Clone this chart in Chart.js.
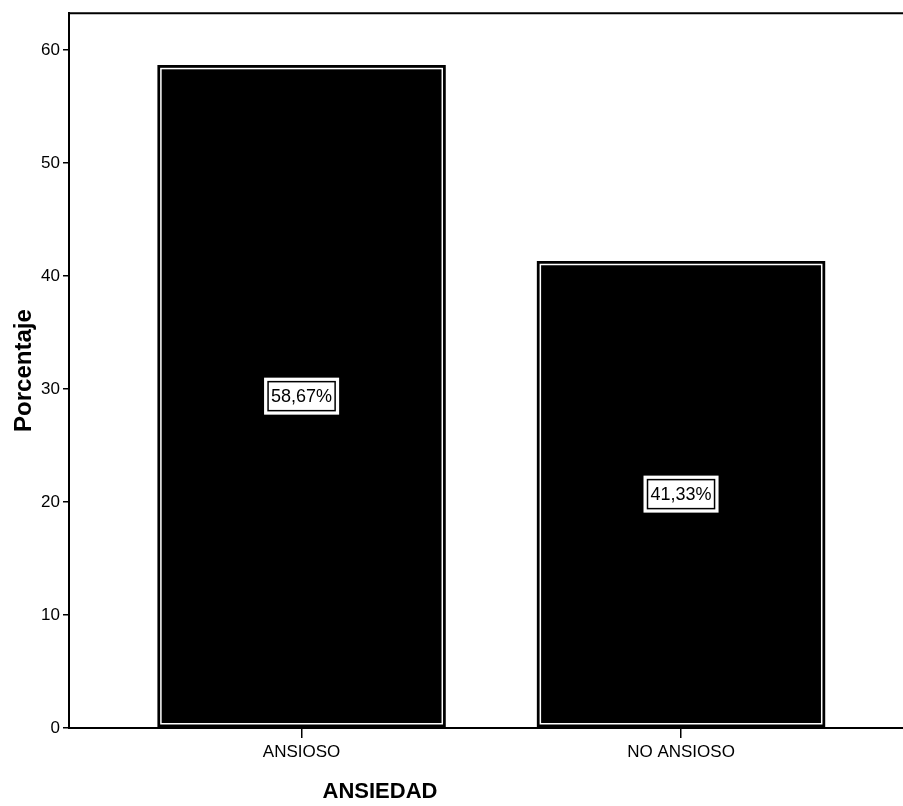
<!DOCTYPE html>
<html>
<head>
<meta charset="utf-8">
<script src="https://cdn.jsdelivr.net/npm/chart.js@4"></script>
<style>
  html, body { margin: 0; padding: 0; background: #fff; }
  #wrap { width: 903px; height: 806px; }
</style>
</head>
<body>
<div id="wrap"><canvas id="grafico"></canvas></div>
<script>
// ============================================================
//  Datos
// ============================================================
const categorias = ['ANSIOSO', 'NO ANSIOSO'];
const porcentajes = [58.67, 41.33];
const etiquetas = ['58,67%', '41,33%'];
const ticksY = [0, 10, 20, 30, 40, 50, 60];

const fuente = "Arial, 'Liberation Sans', sans-serif";

// ============================================================
//  Plugin: borde blanco interior, etiquetas y marco superior
// ============================================================
const decoracion = {
    id: 'decoracion',
    afterDatasetsDraw(chart) {
        const ctx = chart.ctx;
        const meta = chart.getDatasetMeta(0);
        ctx.save();
        meta.data.forEach((bar, i) => {
            const left = bar.x - bar.width / 2;
            const right = bar.x + bar.width / 2;
            // línea blanca interior
            ctx.strokeStyle = '#fff';
            ctx.lineWidth = 1.5;
            ctx.strokeRect(left + 3.5, bar.y + 3.5, right - left - 7, bar.base - bar.y - 7);

            // caja con el porcentaje
            const cy = (bar.y + bar.base) / 2;
            ctx.font = '18px ' + fuente;
            const w = ctx.measureText(etiquetas[i]).width + 6;
            const h = 29;
            ctx.fillStyle = '#fff';
            ctx.fillRect(bar.x - w / 2 - 4, cy - h / 2 - 4, w + 8, h + 8);
            ctx.strokeStyle = '#000';
            ctx.lineWidth = 1.5;
            ctx.strokeRect(bar.x - w / 2, cy - h / 2, w, h);
            ctx.fillStyle = '#000';
            ctx.textAlign = 'center';
            ctx.textBaseline = 'middle';
            ctx.fillText(etiquetas[i], bar.x, cy + 1);
        });

        // marco superior
        const a = chart.chartArea;
        ctx.strokeStyle = '#000';
        ctx.lineWidth = 2;
        ctx.beginPath();
        ctx.moveTo(a.left, a.top);
        ctx.lineTo(chart.width, a.top);
        ctx.stroke();

        // título del eje X
        ctx.font = 'bold 22px ' + fuente;
        ctx.fillStyle = '#000';
        ctx.textAlign = 'center';
        ctx.textBaseline = 'middle';
        ctx.fillText('ANSIEDAD', 380, 792);
        ctx.restore();
    }
};

// ============================================================
//  Gráfico
// ============================================================
new Chart(document.getElementById('grafico'), {
    type: 'bar',
    data: {
        datasets: [{
            data: porcentajes.map((v, i) => ({ x: i, y: v })),
            backgroundColor: '#000',
            borderWidth: 0,
            categoryPercentage: 1,
            barPercentage: 0.76
        }]
    },
    options: {
        responsive: true,
        maintainAspectRatio: false,
        animation: false,
        layout: { padding: { top: 10, right: 0, left: 0, bottom: 0 } },
        plugins: {
            legend: { display: false },
            tooltip: { enabled: false }
        },
        scales: {
            x: {
                type: 'linear',
                min: -0.613,
                max: 1.585,
                offset: false,
                afterBuildTicks: s => { s.ticks = categorias.map((c, i) => ({ value: i })); },
                afterFit: s => { s.height = 78; },
                ticks: {
                    callback: v => categorias[v],
                    color: '#000',
                    padding: 4,
                    maxRotation: 0,
                    autoSkip: false,
                    font: { size: 17, family: fuente }
                },
                grid: { offset: false, drawOnChartArea: false, drawTicks: true, tickLength: 10, color: '#000', lineWidth: 1.5 },
                border: { display: true, color: '#000', width: 2 }
            },
            y: {
                min: 0,
                max: 63.26,
                afterBuildTicks: s => { s.ticks = ticksY.map(v => ({ value: v })); },
                afterFit: s => { s.width = 69; },
                ticks: {
                    color: '#000',
                    padding: 3,
                    font: { size: 17, family: fuente }
                },
                title: {
                    display: true,
                    text: 'Porcentaje',
                    color: '#000',
                    padding: { top: 10, bottom: 0 },
                    font: { size: 24, weight: 'bold', family: fuente }
                },
                grid: { drawOnChartArea: false, drawTicks: true, tickLength: 6, color: '#000', lineWidth: 1.5 },
                border: { display: true, color: '#000', width: 2 }
            }
        }
    },
    plugins: [decoracion]
});
</script>
</body>
</html>
